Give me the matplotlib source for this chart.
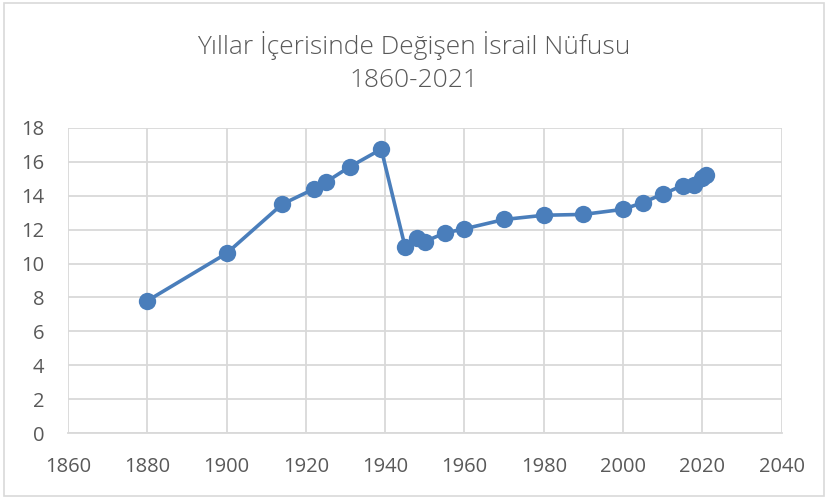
import numpy as np
import matplotlib
matplotlib.use('Agg')
import matplotlib.pyplot as plt
from matplotlib.patches import Rectangle

# Israel population
years = [1880, 1900, 1914, 1922, 1925, 1931, 1939, 1945, 1948, 1950, 1955, 1960,
         1970, 1980, 1990, 2000, 2005, 2010, 2015, 2018, 2020, 2021]
population = [7.8, 10.6, 13.5, 14.4, 14.8, 15.7, 16.75, 11.0, 11.5, 11.3, 11.8, 12.05,
              12.6, 12.85, 12.9, 13.2, 13.6, 14.1, 14.6, 14.65, 15.05, 15.2]

title_lines = ['Yıllar İçerisinde Değişen İsrail Nüfusu', '1860-2021']
x_ticks = np.arange(1860, 2041, 20)
y_ticks = np.arange(0, 19, 2)

plt.rcParams['font.family'] = ['Open Sans', 'DejaVu Sans']
text_color = '#595959'
grid_color = '#d9d9d9'
line_color = '#4a7ebb'

fig = plt.figure(figsize=(8.28, 4.98), dpi=100)
ax = fig.add_axes([0.0821, 0.1305, 0.862, 0.6125])

ax.plot(years, population, '-o', color=line_color, linewidth=2.6,
        markersize=12.5, markeredgewidth=0, zorder=3)

ax.set_xlim(1860, 2040)
ax.set_ylim(0, 18)
ax.set_xticks(x_ticks)
ax.set_yticks(y_ticks)
ax.grid(True, color=grid_color, linewidth=1.3)
ax.set_axisbelow(True)
for side in ['top', 'right', 'left']:
    ax.spines[side].set_visible(False)
ax.spines['bottom'].set_color(grid_color)
ax.spines['bottom'].set_linewidth(1.3)
ax.tick_params(length=0, labelsize=14.5, labelcolor=text_color)
ax.tick_params(axis='x', pad=17)
ax.tick_params(axis='y', pad=17)

fig.text(0.5, 0.908, title_lines[0], ha='center', va='center',
         fontsize=19, color=text_color, fontweight='light')
fig.text(0.5, 0.838, title_lines[1], ha='center', va='center',
         fontsize=19, color=text_color, fontweight='light')

# light frame around the chart area
fig.patches.append(Rectangle((0.005, 0.004), 0.99, 0.99, transform=fig.transFigure,
                             fill=False, edgecolor=grid_color, linewidth=1.2))

fig.savefig('out.png', dpi=100)
plt.close(fig)
